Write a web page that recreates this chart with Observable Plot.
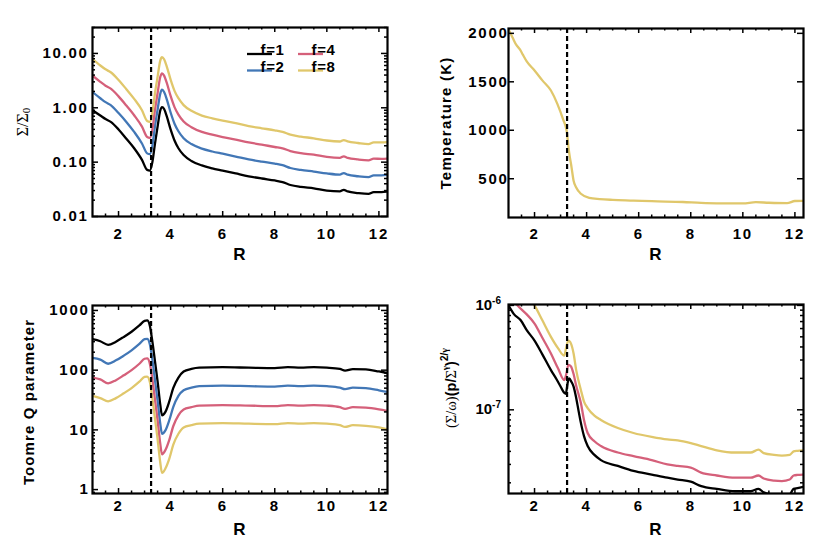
<!DOCTYPE html>
<html><head><meta charset="utf-8">
<script src="https://cdn.jsdelivr.net/npm/d3@7"></script>
<script src="https://cdn.jsdelivr.net/npm/@observablehq/plot@0.6"></script>
<style>
body{margin:0;background:#fff;}
#wrap{position:relative;width:830px;height:553px;background:#fff;}
#wrap svg{position:absolute;overflow:visible;}
</style></head><body><div id="wrap"></div>
<script>
// ---------- data ----------
const fLabels = ["f=1","f=2","f=4","f=8"];
const colors = ["#000000","#4277b6","#d5607a","#e0c76b"];
const snowLine = 3.25;
const xTickLabels = [2,4,6,8,10,12];

// Panel 1: surface density
const R_sigma = [1.0,1.3,1.5,1.7,2.0,2.3,2.6,2.9,3.1,3.2,3.3,3.4,3.5,3.6,3.67,3.75,3.85,4.0,4.15,4.3,4.5,4.8,5.2,5.6,6.0,6.5,7.0,7.5,8.0,8.3,8.6,9.0,9.5,10.0,10.5,10.65,10.8,11.2,11.6,11.8,12.1,12.4];
const sigma_f1 = [0.90,0.72,0.62,0.55,0.40,0.27,0.18,0.11,0.072,0.070,0.10,0.22,0.45,0.88,1.03,0.95,0.70,0.40,0.25,0.18,0.135,0.105,0.087,0.077,0.070,0.062,0.055,0.050,0.046,0.043,0.038,0.035,0.033,0.030,0.029,0.031,0.029,0.027,0.026,0.028,0.028,0.029];
const sigma_f2 = [1.95,1.5,1.27,1.12,0.80,0.55,0.36,0.22,0.145,0.140,0.20,0.46,0.92,1.80,2.15,1.95,1.45,0.82,0.51,0.37,0.275,0.215,0.177,0.157,0.143,0.127,0.112,0.102,0.094,0.088,0.078,0.072,0.067,0.062,0.059,0.063,0.059,0.055,0.053,0.057,0.057,0.059];
const sigma_f4 = [3.9,3.0,2.55,2.25,1.62,1.1,0.73,0.45,0.29,0.28,0.40,0.92,1.85,3.65,4.3,3.9,2.9,1.65,1.03,0.75,0.56,0.44,0.36,0.32,0.29,0.26,0.23,0.21,0.19,0.18,0.16,0.146,0.137,0.125,0.12,0.128,0.12,0.112,0.108,0.116,0.115,0.117];
const sigma_f8 = [7.9,6.0,5.1,4.5,3.25,2.2,1.46,0.9,0.57,0.55,0.80,1.85,3.7,7.3,8.5,7.8,5.8,3.3,2.05,1.5,1.12,0.88,0.72,0.64,0.58,0.52,0.46,0.42,0.385,0.36,0.32,0.295,0.275,0.25,0.24,0.255,0.24,0.225,0.215,0.232,0.232,0.235];

// Panel 2: temperature
const R_temp = [1.0,1.15,1.3,1.45,1.55,1.7,2.0,2.3,2.63,2.88,3.1,3.23,3.33,3.42,3.5,3.6,3.78,4.1,4.5,5.0,5.8,6.5,7.7,8.4,9.0,10.0,10.5,11.0,11.7,12.0,12.4];
const temp_K = [2040,1960,1880,1830,1780,1710,1617,1515,1410,1270,1110,1000,770,620,480,410,345,303,290,282,275,268,260,250,246,246,258,252,248,270,272];

// Panel 3: Toomre Q
const R_Q = [1.0,1.3,1.6,1.9,2.2,2.5,2.8,3.0,3.1,3.2,3.3,3.4,3.5,3.6,3.67,3.8,3.95,4.1,4.3,4.5,4.8,5.1,6.0,7.0,8.0,8.5,9.0,9.5,10.0,10.5,10.7,11.0,11.5,12.0,12.4];
const Q_f1 = [330,305,265,300,360,440,560,670,680,560,300,140,65,27,17.5,20,30,50,75,95,105,110,112,110,108,112,110,112,110,105,98,104,103,95,88];
const Q_f2 = [160,150,128,146,175,215,275,330,335,275,150,68,31,13,8.6,9.8,14.5,24,37,46,51,54,55,54,53,55,54,55,54,51,48,51,50,46,42.5];
const Q_f4 = [75,70,60,68,82,100,128,155,158,130,70,32,14.5,6,3.9,4.6,6.8,11.5,17.5,22,24,25.5,26,25.5,25,26,25.5,26,25.5,24,22.5,24,23.5,22,20.5];
const Q_f8 = [37,34,30,34,41,50,64,77,78,64,34,15.5,7,2.9,1.9,2.25,3.3,5.6,8.6,11,12,12.7,13,12.7,12.5,13,12.7,13,12.7,12,11.2,12,11.7,11,10];

// Panel 4: (Sigma/omega)(p/Sigma^gamma)^(2/gamma)
const R_w1 = [1.0,1.2,1.47,1.7,2.0,2.3,2.63,2.85,3.0,3.1,3.2,3.27,3.33,3.42,3.5,3.6,3.7,3.78,3.9,4.04,4.3,4.55,5.2,5.8,6.5,7.1,7.5,8.0,8.4,9.0,9.7,10.3,10.6,10.8,11.1,11.5,11.8,11.95,12.1,12.4];
const w_f1 = [1.0e-6,8.3e-7,7.2e-7,5.8e-7,4.6e-7,3.4e-7,2.4e-7,1.95e-7,1.67e-7,1.5e-7,1.42e-7,1.8e-7,2.0e-7,1.85e-7,1.67e-7,1.3e-7,9.5e-8,7.5e-8,5.6e-8,4.5e-8,3.7e-8,3.3e-8,2.9e-8,2.6e-8,2.4e-8,2.24e-8,2.15e-8,2.05e-8,1.86e-8,1.75e-8,1.66e-8,1.66e-8,1.75e-8,1.62e-8,1.55e-8,1.52e-8,1.55e-8,1.75e-8,1.78e-8,1.85e-8];
const R_w4 = [1.0,1.35,1.7,2.0,2.3,2.63,2.9,3.14,3.22,3.3,3.4,3.5,3.6,3.78,3.9,4.04,4.3,4.55,5.2,5.8,6.5,7.1,7.5,8.0,8.4,9.0,9.7,10.3,10.6,10.8,11.2,11.5,11.8,11.95,12.1,12.4];
const w_f4 = [1.3e-6,1.0e-6,8.2e-7,6.7e-7,4.9e-7,3.46e-7,2.5e-7,1.93e-7,2.2e-7,2.7e-7,2.6e-7,2.2e-7,1.7e-7,1.16e-7,8.0e-8,6.0e-8,5.0e-8,4.5e-8,3.9e-8,3.6e-8,3.3e-8,3.0e-8,2.9e-8,2.8e-8,2.5e-8,2.35e-8,2.24e-8,2.24e-8,2.35e-8,2.2e-8,2.1e-8,2.08e-8,2.15e-8,2.35e-8,2.38e-8,2.4e-8];
const R_w8 = [1.5,2.0,2.3,2.63,2.9,3.14,3.22,3.3,3.4,3.5,3.6,3.78,3.9,4.04,4.3,4.55,5.2,5.8,6.5,7.1,7.5,8.0,8.4,9.0,9.7,10.3,10.6,10.8,11.2,11.5,11.8,11.95,12.1,12.4];
const w_f8 = [1.5e-6,1.0e-6,7.2e-7,5.0e-7,3.9e-7,3.3e-7,4.0e-7,4.6e-7,4.3e-7,3.46e-7,2.4e-7,1.55e-7,1.2e-7,1.04e-7,8.8e-8,8.0e-8,6.7e-8,6.0e-8,5.5e-8,5.2e-8,5.1e-8,4.8e-8,4.5e-8,4.1e-8,3.9e-8,3.9e-8,4.15e-8,3.85e-8,3.7e-8,3.65e-8,3.7e-8,4.0e-8,4.05e-8,4.1e-8];

// ---------- drawing ----------
const SANS = "'Liberation Sans', Arial, Helvetica, sans-serif";
const SERIF = "'Liberation Serif', 'Times New Roman', serif";
const xDomain = [1, 12.33];
const xAll = d3.range(1.5, 12.33, 0.5);
const xMajor = xAll.filter(v => v % 2 === 0);
const xMinor = xAll.filter(v => v % 2 !== 0);
const wrap = document.getElementById("wrap");

function makePanel(cfg) {
  const innerW = cfg.width - cfg.ml - cfg.mr;
  const innerH = cfg.height - cfg.mt - cfg.mb;
  const marks = [];
  cfg.series.forEach(s => {
    const data = s.R.map((r, i) => ({R: r, v: s.v[i]}));
    marks.push(Plot.line(data, {x: "R", y: "v", stroke: s.color, strokeWidth: 2.3, curve: "monotone-x", clip: true}));
  });
  marks.push(Plot.ruleX([snowLine], {stroke: "black", strokeWidth: 2.2, strokeDasharray: "5,3"}));
  const tk = (vals, len, side) => {
    const o = {stroke: "black", strokeWidth: 1.5};
    if (side === "b") o.insetTop = innerH - len;
    if (side === "t") o.insetBottom = innerH - len;
    if (side === "l") o.insetRight = innerW - len;
    if (side === "r") o.insetLeft = innerW - len;
    return (side === "b" || side === "t") ? Plot.ruleX(vals, o) : Plot.ruleY(vals, o);
  };
  for (const s of ["b","t"]) { marks.push(tk(xMajor, 5, s)); marks.push(tk(xMinor, 2.5, s)); }
  for (const s of ["l","r"]) { marks.push(tk(cfg.yMajor, 6, s)); if (cfg.yMinor.length) marks.push(tk(cfg.yMinor, 3, s)); }
  marks.push(Plot.frame({stroke: "black", strokeWidth: 2.2}));
  marks.push(Plot.axisX(xTickLabels, {tickSize: 0, tickPadding: cfg.padX, fontSize: 15, fontWeight: "bold", label: null}));
  if (cfg.yFormat) marks.push(Plot.axisY(cfg.yMajor, {tickSize: 0, tickPadding: cfg.padY, fontSize: 15, fontWeight: "bold", tickFormat: cfg.yFormat, label: null}));
  const plot = Plot.plot({
    width: cfg.width, height: cfg.height,
    marginLeft: cfg.ml, marginRight: cfg.mr, marginTop: cfg.mt, marginBottom: cfg.mb,
    x: {domain: xDomain},
    y: {type: cfg.yType, domain: cfg.yDomain, axis: cfg.yFormat ? undefined : null},
    style: {fontFamily: SANS, fontSize: "15px", fontWeight: "bold", letterSpacing: "1.7px", color: "black", background: "transparent", overflow: "visible"},
    marks
  });
  plot.style.left = cfg.left + "px";
  plot.style.top = cfg.top + "px";
  wrap.appendChild(plot);
  const svg = d3.select(plot);
  svg.append("text").attr("x", cfg.ml + innerW / 2).attr("y", cfg.rY)
    .attr("text-anchor", "middle").attr("dominant-baseline", "central")
    .style("font-family", SANS).style("font-size", "17px").style("font-weight", "bold").style("letter-spacing", "0px")
    .text("R");
  return {plot, svg, innerW, innerH};
}

// Panel 1
const p1 = makePanel({
  left: 0, top: 0, width: 415, height: 276, ml: 92, mr: 28, mt: 27, mb: 60,
  yType: "log", yDomain: [0.01, 30],
  yMajor: [0.01, 0.1, 1, 10],
  yMinor: d3.scaleLog().domain([0.01, 30]).ticks().filter(v => ![0.01,0.1,1,10].some(m => Math.abs(v - m) < 1e-9)),
  yFormat: d3.format(".2f"), padX: 12, padY: 4, rY: 254,
  series: [
    {R: R_sigma, v: sigma_f1, color: colors[0]},
    {R: R_sigma, v: sigma_f2, color: colors[1]},
    {R: R_sigma, v: sigma_f4, color: colors[2]},
    {R: R_sigma, v: sigma_f8, color: colors[3]}
  ]
});
{
  const t = p1.svg.append("text").attr("transform", "translate(22,122) rotate(-90)")
    .attr("text-anchor", "middle").attr("dominant-baseline", "central")
    .style("font-family", SERIF).style("font-size", "16px").style("font-weight", "normal").style("letter-spacing", "0px");
  t.append("tspan").text("Σ/Σ");
  t.append("tspan").attr("dy", 4).style("font-size", "11px").text("0");
  const rows = [[0, 2], [1, 3]];
  const yRow = [54, 70.5];
  rows.forEach((pair, r) => {
    pair.forEach((si, c) => {
      const x0 = 247 + c * 51;
      p1.svg.append("line").attr("x1", x0).attr("x2", x0 + 25).attr("y1", yRow[r]).attr("y2", yRow[r])
        .attr("stroke", colors[si]).attr("stroke-width", 2.3);
      p1.svg.append("text").attr("x", x0 + 25.5).attr("y", yRow[r] + 1)
        .style("font-family", SANS).style("font-size", "15px").style("font-weight", "bold").style("letter-spacing", "0.6px")
        .text(fLabels[si]);
    });
  });
}

// Panel 2
const p2 = makePanel({
  left: 415, top: 0, width: 415, height: 276, ml: 93, mr: 27, mt: 28, mb: 59,
  yType: "linear", yDomain: [100, 2050],
  yMajor: [500, 1000, 1500, 2000], yMinor: [],
  yFormat: d => String(d), padX: 11, padY: 0, rY: 254,
  series: [{R: R_temp, v: temp_K, color: colors[3]}]
});
p2.svg.append("text").attr("transform", "translate(30,123) rotate(-90)")
  .attr("text-anchor", "middle").attr("dominant-baseline", "central")
  .style("font-family", SANS).style("font-size", "15px").style("font-weight", "bold").style("letter-spacing", "1.2px")
  .text("Temperature (K)");

// Panel 3
const p3 = makePanel({
  left: 0, top: 276, width: 415, height: 277, ml: 92, mr: 28, mt: 29, mb: 60,
  yType: "log", yDomain: [0.86, 1210],
  yMajor: [1, 10, 100, 1000],
  yMinor: d3.scaleLog().domain([0.86, 1210]).ticks().filter(v => v > 0.86 && ![1,10,100,1000].includes(v)),
  yFormat: d => String(d), padX: 7, padY: 3, rY: 253,
  series: [
    {R: R_Q, v: Q_f1, color: colors[0]},
    {R: R_Q, v: Q_f2, color: colors[1]},
    {R: R_Q, v: Q_f4, color: colors[2]},
    {R: R_Q, v: Q_f8, color: colors[3]}
  ]
});
p3.svg.append("text").attr("transform", "translate(28,126) rotate(-90)")
  .attr("text-anchor", "middle").attr("dominant-baseline", "central")
  .style("font-family", SANS).style("font-size", "15px").style("font-weight", "bold").style("letter-spacing", "1.1px")
  .text("Toomre Q parameter");

// Panel 4
const p4Major = [1e-7, 1e-6];
const p4 = makePanel({
  left: 415, top: 276, width: 415, height: 277, ml: 93, mr: 27, mt: 28, mb: 60,
  yType: "log", yDomain: [1.58e-8, 1.02e-6],
  yMajor: p4Major,
  yMinor: d3.scaleLog().domain([1.58e-8, 1.02e-6]).ticks().filter(v => !p4Major.some(m => Math.abs(v - m) / m < 1e-6)),
  yFormat: null, padX: 7, padY: 6, rY: 253,
  series: [
    {R: R_w1, v: w_f1, color: colors[0]},
    {R: R_w4, v: w_f4, color: colors[2]},
    {R: R_w8, v: w_f8, color: colors[3]}
  ]
});
{
  const ys = p4.plot.scale("y");
  p4Major.forEach(v => {
    const t = p4.svg.append("text").attr("x", 86).attr("y", ys.apply(v) + 5)
      .attr("text-anchor", "end")
      .style("font-family", SANS).style("font-size", "15px").style("font-weight", "bold").style("letter-spacing", "0px");
    t.append("tspan").text("10");
    t.append("tspan").attr("dy", -6).style("font-size", "10px").text(String(Math.round(Math.log10(v))));
  });
  const t = p4.svg.append("text").attr("transform", "translate(36,112) rotate(-90)")
    .attr("text-anchor", "middle").attr("dominant-baseline", "central")
    .style("font-size", "14.5px").style("letter-spacing", "0px");
  t.append("tspan").style("font-family", SERIF).style("font-weight", "normal").text("(Σ/ω)");
  t.append("tspan").style("font-family", SANS).style("font-weight", "bold").text("(p/");
  t.append("tspan").style("font-family", SERIF).style("font-weight", "normal").text("Σ");
  t.append("tspan").attr("dy", -6).style("font-family", SERIF).style("font-size", "9px").text("γ");
  t.append("tspan").attr("dy", 6).style("font-family", SANS).style("font-weight", "bold").text(")");
  t.append("tspan").attr("dy", -7).style("font-family", SANS).style("font-weight", "bold").style("font-size", "10px").text("2/");
  t.append("tspan").style("font-family", SERIF).style("font-size", "10px").text("γ");
}
</script>
</body></html>
